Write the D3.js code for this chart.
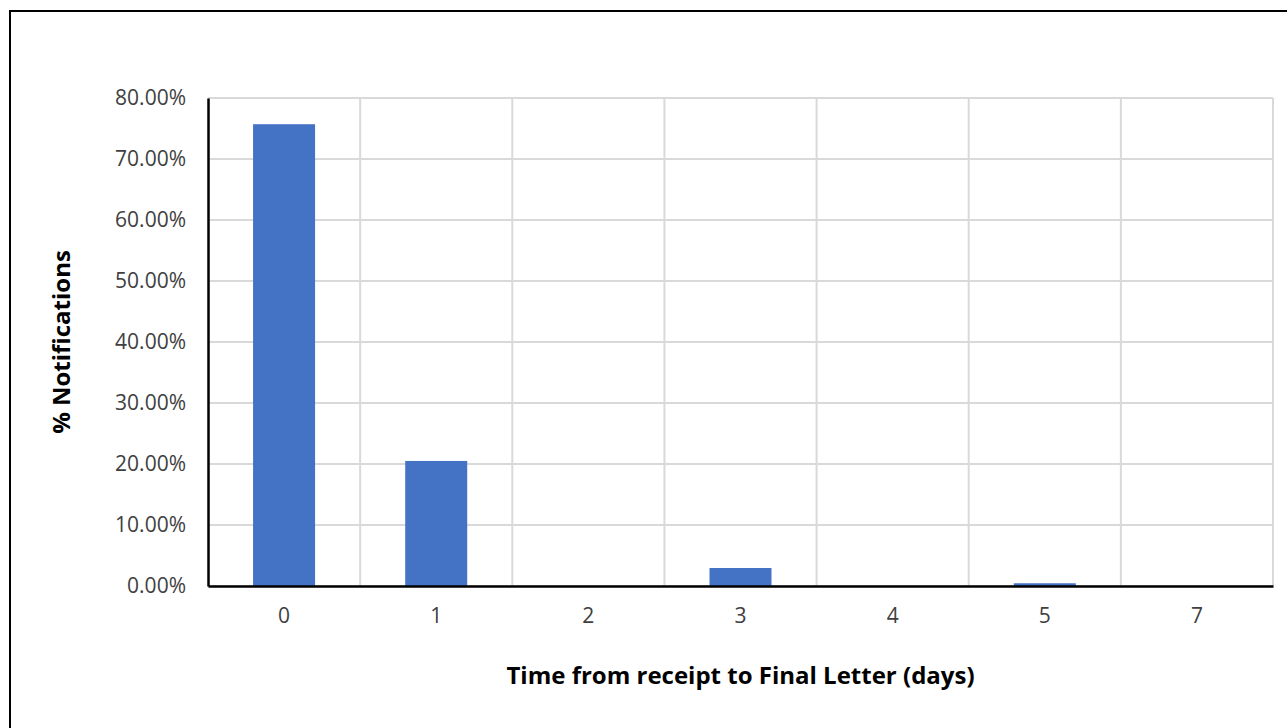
<!DOCTYPE html>
<html>
<head>
<meta charset="utf-8">
<script src="https://cdn.jsdelivr.net/npm/d3@7"></script>
<style>
  body { margin: 0; background: #fff; }
  text { font-family: "Open Sans", "Liberation Sans", sans-serif; }
</style>
</head>
<body>
<div id="chart"></div>
<script>
// chart data
const days = ["0", "1", "2", "3", "4", "5", "7"];
const pctNotifications = [0.757, 0.205, 0, 0.0295, 0, 0.0045, 0];
const yTicks = [0, 0.1, 0.2, 0.3, 0.4, 0.5, 0.6, 0.7, 0.8];

const width = 1287;
const height = 728;
const margin = { top: 98, right: 14, bottom: 142, left: 208 };

const svg = d3.select("#chart")
  .append("svg")
  .attr("width", width)
  .attr("height", height);

// outer frame
svg.append("rect")
  .attr("x", 10).attr("y", 11)
  .attr("width", 1290).attr("height", 740)
  .attr("fill", "none")
  .attr("stroke", "#000")
  .attr("stroke-width", 2);

const xScale = d3.scaleBand()
  .domain(days)
  .range([margin.left, width - margin.right]);

const yScale = d3.scaleLinear()
  .domain([0, 0.8])
  .range([height - margin.bottom, margin.top]);

// horizontal grid
svg.append("g")
  .selectAll("line")
  .data(yTicks)
  .enter()
  .append("line")
  .attr("x1", margin.left)
  .attr("x2", width - margin.right)
  .attr("y1", d => yScale(d))
  .attr("y2", d => yScale(d))
  .attr("stroke", "#d9d9d9")
  .attr("stroke-width", 2);

// vertical grid at category edges
svg.append("g")
  .selectAll("line")
  .data(days)
  .enter()
  .append("line")
  .attr("x1", d => xScale(d) + xScale.bandwidth())
  .attr("x2", d => xScale(d) + xScale.bandwidth())
  .attr("y1", margin.top)
  .attr("y2", height - margin.bottom)
  .attr("stroke", "#d9d9d9")
  .attr("stroke-width", 2);

// bars
const barW = 62;
svg.selectAll("rect.bar")
  .data(pctNotifications)
  .enter()
  .append("rect")
  .attr("class", "bar")
  .attr("x", (d, i) => xScale(days[i]) + xScale.bandwidth() / 2 - barW / 2)
  .attr("y", d => yScale(d))
  .attr("width", barW)
  .attr("height", d => yScale(0) - yScale(d))
  .attr("fill", "#4472c4");

// axes
const xAxis = d3.axisBottom(xScale).tickSize(0).tickPadding(22);
const yAxis = d3.axisLeft(yScale).tickValues(yTicks).tickSize(0).tickPadding(22)
  .tickFormat(d3.format(".2%"));

const gx = svg.append("g")
  .attr("transform", `translate(0,${height - margin.bottom})`)
  .call(xAxis);
gx.select(".domain").attr("stroke", "#000").attr("stroke-width", 2.5);
gx.selectAll("text").attr("font-size", 21).attr("fill", "#404040");

const gy = svg.append("g")
  .attr("transform", `translate(${margin.left},0)`)
  .call(yAxis);
gy.select(".domain").attr("stroke", "#000").attr("stroke-width", 2.5);
gy.selectAll("text").attr("font-size", 21).attr("fill", "#404040");

// titles
svg.append("text")
  .attr("x", (margin.left + width - margin.right) / 2)
  .attr("y", 684)
  .attr("text-anchor", "middle")
  .attr("font-size", 24)
  .attr("font-weight", "bold")
  .attr("fill", "#000")
  .text("Time from receipt to Final Letter (days)");

svg.append("text")
  .attr("transform", `translate(70,${(margin.top + height - margin.bottom) / 2}) rotate(-90)`)
  .attr("text-anchor", "middle")
  .attr("font-size", 24)
  .attr("font-weight", "bold")
  .attr("fill", "#000")
  .text("% Notifications");
</script>
</body>
</html>
